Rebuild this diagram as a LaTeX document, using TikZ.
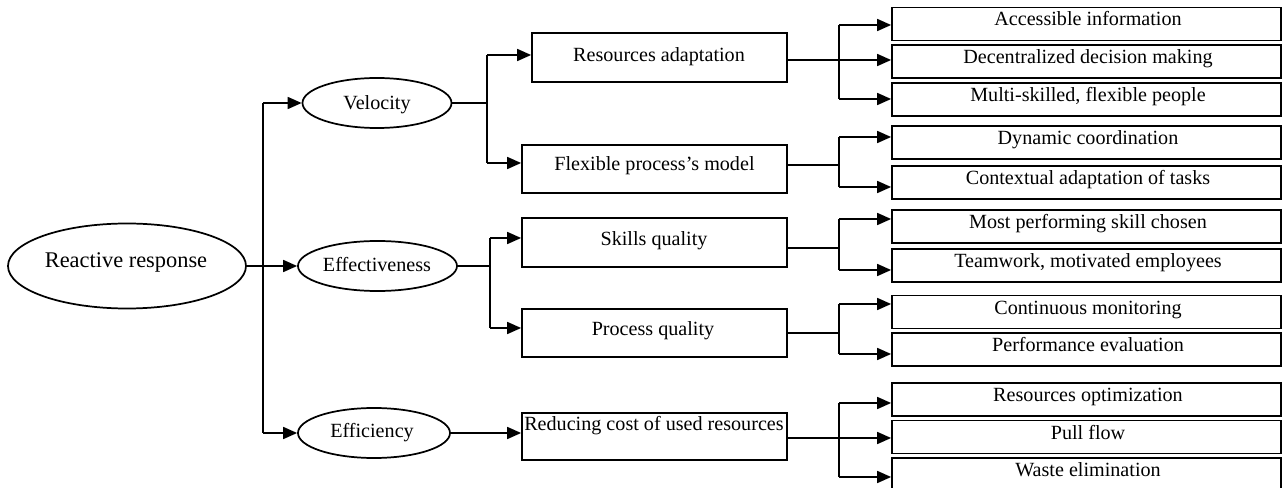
\documentclass[tikz,border=0pt]{standalone}
\usepackage{fontspec}
\setmainfont{Liberation Serif}
\usetikzlibrary{arrows.meta,shapes.geometric}
\begin{document}
\begin{tikzpicture}[x=0.75pt,y=-0.75pt,line width=1.3pt,
  ell/.style={draw,ellipse,inner sep=0pt},
  box/.style={draw,rectangle,inner sep=0pt},
  leaf/.style={draw,rectangle,inner sep=0pt,minimum width=389*0.75pt,minimum height=33*0.75pt},
  txt/.style={anchor=base,inner sep=0pt,yshift=-0.75pt,font=\fontsize{15.1}{18}\selectfont},
  arr/.style={-{Triangle[length=10.5pt,width=9pt]}}]
\useasboundingbox (0,0) rectangle (1283,488);
\fill[white] (0,0) rectangle (1283,488);

% ellipses
\node[ell,minimum width=238*0.75pt,minimum height=85*0.75pt] (rr) at (127,266) {};
\node[txt,font=\fontsize{16.8}{20}\selectfont] (rrt) at (126,267) {Reactive response};
\node[ell,minimum width=149*0.75pt,minimum height=50*0.75pt] (vel) at (377,103) {};
\node[txt] (velt) at (377,109) {Velocity};
\node[ell,minimum width=159*0.75pt,minimum height=50*0.75pt] (eff) at (377.5,266) {};
\node[txt] (efft) at (377,271) {Effectiveness};
\node[ell,minimum width=152*0.75pt,minimum height=50*0.75pt] (effi) at (374,433) {};
\node[txt] (effit) at (372,437) {Efficiency};

% middle boxes
\node[box,minimum width=255*0.75pt,minimum height=49*0.75pt] (ra) at (659.5,57.5) {};
\node[txt] (rat) at (659,61) {Resources adaptation};
\node[box,minimum width=265*0.75pt,minimum height=48*0.75pt] (fp) at (654.5,169) {};
\node[txt] (fpt) at (654.5,170) {Flexible process’s model};
\node[box,minimum width=265*0.75pt,minimum height=49*0.75pt] (sq) at (654.5,242.5) {};
\node[txt] (sqt) at (654,245) {Skills quality};
\node[box,minimum width=265*0.75pt,minimum height=48*0.75pt] (pq) at (654.5,333) {};
\node[txt] (pqt) at (653,335) {Process quality};
\node[box,minimum width=265*0.75pt,minimum height=47*0.75pt] (rc) at (654.5,436.5) {};
\node[txt] (rct) at (654,430) {Reducing cost of used resources};

% leaves
\node[leaf] (l1) at (1086.5,24) {};
\node[txt] (l1t) at (1088,25) {Accessible information};
\node[leaf] (l2) at (1086.5,61.5) {};
\node[txt] (l2t) at (1088,63) {Decentralized decision making};
\node[leaf] (l3) at (1086.5,99.5) {};
\node[txt] (l3t) at (1088,101) {Multi-skilled, flexible people};
\node[leaf] (l4) at (1086.5,142.5) {};
\node[txt] (l4t) at (1088,144) {Dynamic coordination};
\node[leaf] (l5) at (1086.5,182.5) {};
\node[txt] (l5t) at (1088,184) {Contextual adaptation of tasks};
\node[leaf] (l6) at (1086.5,226.5) {};
\node[txt] (l6t) at (1088,228) {Most performing skill chosen};
\node[leaf] (l7) at (1086.5,265.5) {};
\node[txt] (l7t) at (1088,267) {Teamwork, motivated employees};
\node[leaf] (l8) at (1086.5,312) {};
\node[txt] (l8t) at (1088,314) {Continuous monitoring};
\node[leaf] (l9) at (1086.5,349.5) {};
\node[txt] (l9t) at (1088,351) {Performance evaluation};
\node[leaf] (l10) at (1086.5,399.5) {};
\node[txt] (l10t) at (1088,401) {Resources optimization};
\node[leaf] (l11) at (1086.5,437) {};
\node[txt] (l11t) at (1088,439) {Pull flow};
\node[leaf] (l12) at (1086.5,474.5) {};
\node[txt] (l12t) at (1088,476) {Waste elimination};

% trunk from reactive response
\coordinate (tr) at (263,0);
\draw[arr] (rr.east) -- (eff.west);
\draw (tr |- vel.west) -- (tr |- effi.west);
\draw[arr] (tr |- vel.west) -- (vel.west);
\draw[arr] (tr |- effi.west) -- (effi.west);

% velocity branch
\coordinate (va) at (487,55);
\coordinate (vb) at (487,163);
\draw (vel.east) -- (vel.east -| va);
\draw (va) -- (vb);
\draw[arr] (va) -- (va -| ra.west);
\draw[arr] (vb) -- (vb -| fp.west);

% effectiveness branch
\coordinate (ea) at (490,238);
\coordinate (eb) at (490,328);
\draw (eff.east) -- (eff.east -| ea);
\draw (ea) -- (eb);
\draw[arr] (ea) -- (ea -| sq.west);
\draw[arr] (eb) -- (eb -| pq.west);

% efficiency
\draw[arr] (effi.east) -- (effi.east -| rc.west);

% resources adaptation branch
\coordinate (r1a) at (839,25);
\coordinate (r1m) at (839,60);
\coordinate (r1c) at (839,99);
\draw (ra.east |- r1m) -- (r1m);
\draw (r1a) -- (r1c);
\draw[arr] (r1a) -- (r1a -| l1.west);
\draw[arr] (r1m) -- (r1m -| l2.west);
\draw[arr] (r1c) -- (r1c -| l3.west);

% flexible process branch
\coordinate (r2a) at (839,137);
\coordinate (r2m) at (839,165);
\coordinate (r2c) at (839,187);
\draw (fp.east |- r2m) -- (r2m);
\draw (r2a) -- (r2c);
\draw[arr] (r2a) -- (r2a -| l4.west);
\draw[arr] (r2c) -- (r2c -| l5.west);

% skills quality branch
\coordinate (r3a) at (839,219);
\coordinate (r3m) at (839,248);
\coordinate (r3c) at (839,270);
\draw (sq.east |- r3m) -- (r3m);
\draw (r3a) -- (r3c);
\draw[arr] (r3a) -- (r3a -| l6.west);
\draw[arr] (r3c) -- (r3c -| l7.west);

% process quality branch
\coordinate (r4a) at (839,304);
\coordinate (r4m) at (839,333);
\coordinate (r4c) at (839,354);
\draw (pq.east |- r4m) -- (r4m);
\draw (r4a) -- (r4c);
\draw[arr] (r4a) -- (r4a -| l8.west);
\draw[arr] (r4c) -- (r4c -| l9.west);

% reducing cost branch
\coordinate (r5a) at (839,403);
\coordinate (r5m) at (839,438);
\coordinate (r5c) at (839,477);
\draw (rc.east |- r5m) -- (r5m);
\draw (r5a) -- (r5c);
\draw[arr] (r5a) -- (r5a -| l10.west);
\draw[arr] (r5m) -- (r5m -| l11.west);
\draw[arr] (r5c) -- (r5c -| l12.west);
\end{tikzpicture}
\end{document}
